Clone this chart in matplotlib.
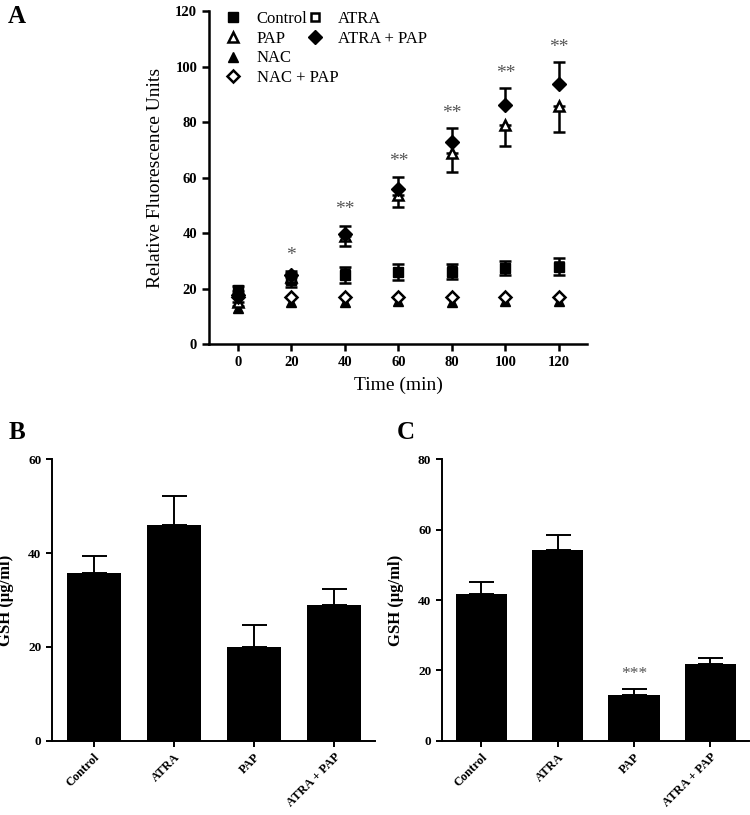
import matplotlib
matplotlib.use('Agg')
import matplotlib.pyplot as plt
import numpy as np

plt.rcParams['font.family'] = ['Liberation Serif', 'DejaVu Serif']

# Panel A: fluorescence over time
time_min = [0, 20, 40, 60, 80, 100, 120]
control = [19.5, 23.0, 24.9, 25.8, 26.1, 27.3, 27.9]
control_err = [1.5, 2.6, 3.0, 2.9, 2.7, 2.5, 3.0]
atra = [18.5, 24.0, 25.5, 26.0, 26.5, 27.5, 28.0]
pap = [15.3, 24.0, 38.9, 53.7, 68.7, 78.9, 85.8]
pap_err = [1.5, 2.0, 3.5, 4.4, 6.8, 7.4, 9.5]
nac = [13.0, 15.3, 15.3, 15.5, 15.3, 15.5, 15.5]
nac_pap = [17.0, 17.0, 17.0, 16.8, 16.8, 17.0, 17.0]
atra_pap = [17.5, 24.9, 39.5, 55.7, 72.9, 86.0, 93.6]
atra_pap_err = [1.5, 1.5, 3.1, 4.6, 4.8, 6.1, 8.1]
stars_a = ['', '*', '**', '**', '**', '**', '**']
stars_a_y = [0, 32.0, 48.5, 65.7, 83.0, 97.5, 107.0]

# Panels B and C: GSH
groups = ['Control', 'ATRA', 'PAP', 'ATRA + PAP']
gsh_b = [35.7, 46.1, 19.9, 28.9]
gsh_b_err = [3.7, 6.0, 4.8, 3.5]
gsh_c = [41.6, 54.3, 13.0, 21.9]
gsh_c_err = [3.6, 4.3, 1.6, 1.5]
stars_c = ['', '', '***', '']

fig = plt.figure(figsize=(7.5, 8.15), dpi=100)

# ---------- A ----------
ax = fig.add_axes([0.2787, 0.5779, 0.504, 0.4086])
ms = 6.5
mew = 1.8
ax.errorbar(time_min, control, yerr=control_err, fmt='none', ecolor='black',
            elinewidth=1.8, capsize=4, capthick=1.8, zorder=2)
ax.errorbar(time_min, pap, yerr=[pap_err, [0]*7], fmt='none', ecolor='black',
            elinewidth=1.8, capsize=4, capthick=1.8, zorder=2)
ax.errorbar(time_min, atra_pap, yerr=[[0]*7, atra_pap_err], fmt='none', ecolor='black',
            elinewidth=1.8, capsize=4, capthick=1.8, zorder=2)
h_atra, = ax.plot(time_min, atra, 's', mfc='white', mec='black', mew=mew, ms=ms - 1, zorder=2.5, label='ATRA')
h_ctrl, = ax.plot(time_min, control, 's', color='black', ms=ms, zorder=3, label='Control')
h_pap, = ax.plot(time_min, pap, '^', mfc='white', mec='black', mew=mew, ms=ms, zorder=4, label='PAP')
h_nac, = ax.plot(time_min, nac, '^', color='black', ms=ms, zorder=3, label='NAC')
h_nacpap, = ax.plot(time_min, nac_pap, 'D', mfc='white', mec='black', mew=mew, ms=ms - 0.5, zorder=4, label='NAC + PAP')
h_atrapap, = ax.plot(time_min, atra_pap, 'D', color='black', ms=ms + 0.5, zorder=5, label='ATRA + PAP')

for t, s, y in zip(time_min, stars_a, stars_a_y):
    if s:
        ax.text(t, y, s, ha='center', va='center', fontsize=14, color='#555555')

ax.set_xlim(-10.8, 130.5)
ax.set_ylim(0, 120)
ax.set_xticks(time_min)
ax.set_yticks([0, 20, 40, 60, 80, 100, 120])
for sp in ['top', 'right']:
    ax.spines[sp].set_visible(False)
for sp in ['left', 'bottom']:
    ax.spines[sp].set_linewidth(1.8)
ax.tick_params(width=1.8, length=5, labelsize=10.5)
for lab in ax.get_xticklabels() + ax.get_yticklabels():
    lab.set_fontweight('bold')
ax.set_xlabel('Time (min)', fontsize=14, labelpad=6)
ax.set_ylabel('Relative Fluorescence Units', fontsize=14, labelpad=8)

leg1 = ax.legend(handles=[h_ctrl, h_pap, h_nac, h_nacpap], loc='upper left',
                 bbox_to_anchor=(0.02, 1.02), frameon=False, fontsize=12,
                 handlelength=1.2, handletextpad=0.8, labelspacing=0.22, borderaxespad=0)
ax.add_artist(leg1)
ax.legend(handles=[h_atra, h_atrapap], loc='upper left',
          bbox_to_anchor=(0.235, 1.02), frameon=False, fontsize=12,
          handlelength=1.2, handletextpad=0.8, labelspacing=0.22, borderaxespad=0)

fig.text(0.011, 0.994, 'A', fontsize=18, fontweight='bold', va='top')


def bar_panel(rect, values, errs, ymax, yticks, stars=None):
    a = fig.add_axes(rect)
    x = np.arange(len(groups))
    a.bar(x, values, width=0.675, color='black', zorder=2)
    a.errorbar(x, values, yerr=[[0]*len(values), errs], fmt='none', ecolor='black',
               elinewidth=1.4, capsize=9, capthick=1.4, zorder=1)
    if stars:
        for xi, s, v, e in zip(x, stars, values, errs):
            if s:
                a.text(xi, v + e + 4.5, s, ha='center', va='center', fontsize=12.5, color='#555555')
    a.set_xlim(-0.52, 3.51)
    a.set_ylim(0, ymax)
    a.set_yticks(yticks)
    a.set_xticks(x)
    a.set_xticklabels(groups, rotation=45, ha='right', rotation_mode='anchor', fontsize=9, fontweight='bold')
    for lab in a.get_yticklabels():
        lab.set_fontweight('bold')
        lab.set_fontsize(9.5)
    for sp in ['top', 'right']:
        a.spines[sp].set_visible(False)
    for sp in ['left', 'bottom']:
        a.spines[sp].set_linewidth(1.4)
    a.tick_params(width=1.4, length=4)
    a.set_ylabel('GSH (\u00b5g/ml)', fontsize=12, fontweight='bold', labelpad=10)
    return a


bar_panel([0.0693, 0.0912, 0.4307, 0.3452], gsh_b, gsh_b_err, 60, [0, 20, 40, 60])
bar_panel([0.589, 0.0912, 0.41, 0.3452], gsh_c, gsh_c_err, 80, [0, 20, 40, 60, 80], stars_c)

fig.text(0.011, 0.484, 'B', fontsize=18, fontweight='bold', va='top')
fig.text(0.529, 0.484, 'C', fontsize=18, fontweight='bold', va='top')

fig.savefig('out.png', dpi=100)
